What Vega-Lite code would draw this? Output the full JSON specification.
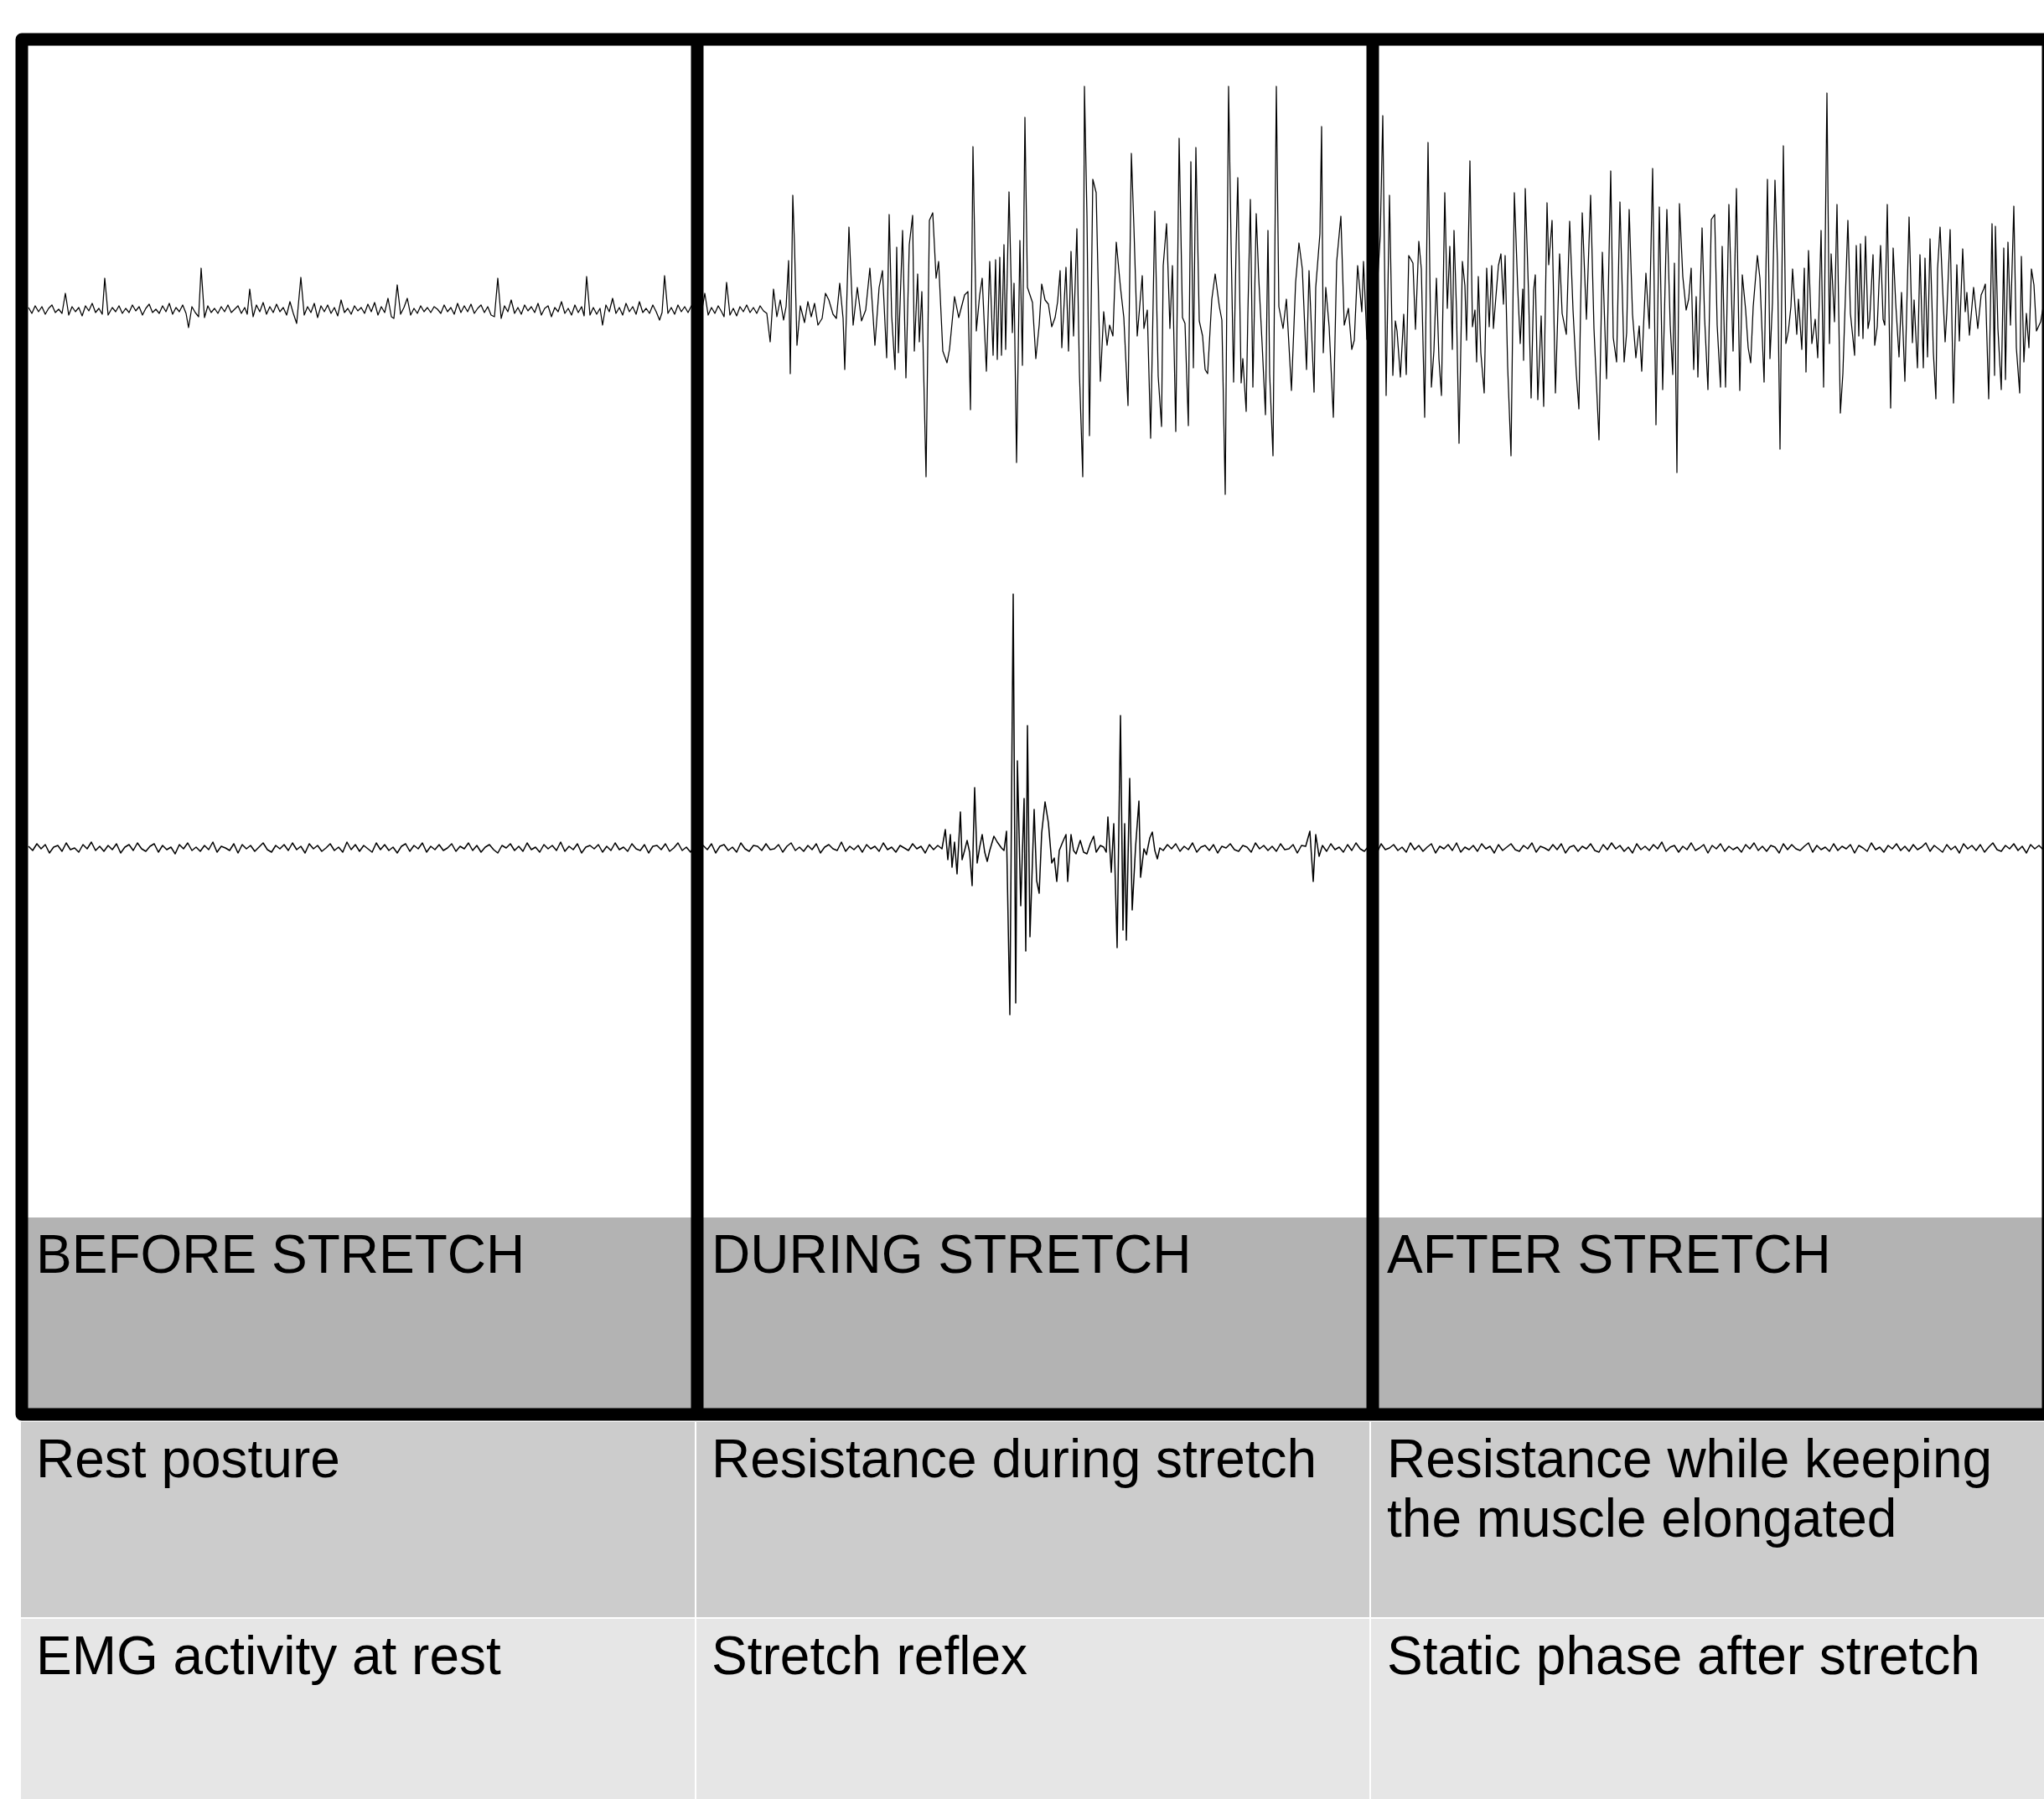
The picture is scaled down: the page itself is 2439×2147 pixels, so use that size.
{
"$schema":"https://vega.github.io/schema/vega-lite/v6.json",
"width":2439,"height":2147,"padding":0,"autosize":{"type":"none"},
"background":"#ffffff",
"config":{"view":{"stroke":null}},
"datasets":{
"cells":[
{"part":"band","t0":0,"t1":2418,"y0":67.63,"y1":78.62},
{"part":"r1","t0":-2,"t1":804,"y0":78.99,"y1":89.94},
{"part":"r1","t0":804,"t1":1609,"y0":78.99,"y1":89.94},
{"part":"r1","t0":1609,"t1":2430,"y0":78.99,"y1":89.94},
{"part":"r2","t0":-2,"t1":804,"y0":89.94,"y1":101},
{"part":"r2","t0":804,"t1":1609,"y0":89.94,"y1":101},
{"part":"r2","t0":1609,"t1":2430,"y0":89.94,"y1":101}
],
"frame":[{"t0":0,"t1":2418,"y0":2.189,"y1":78.62}],
"dividers":[{"t":806,"y0":2.189,"y1":78.62},{"t":1612,"y0":2.189,"y1":78.62}],
"labels":[
{"t":0,"top":67.63,"label":"BEFORE STRETCH"},
{"t":806,"top":67.63,"label":"DURING STRETCH"},
{"t":1612,"top":67.63,"label":"AFTER STRETCH"},
{"t":0,"top":78.99,"label":"Rest posture"},
{"t":806,"top":78.99,"label":"Resistance during stretch"},
{"t":1612,"top":78.99,"label":"Resistance while keeping\nthe muscle elongated"},
{"t":0,"top":89.94,"label":"EMG activity at rest"},
{"t":806,"top":89.94,"label":"Stretch reflex"},
{"t":1612,"top":89.94,"label":"Static phase after stretch"}
],
"emg1":[
{"t":8,"v":3},{"t":12,"v":-4},{"t":16,"v":5},{"t":20,"v":-2},{"t":24,"v":4},{"t":28,"v":-5},{"t":32,"v":2},{"t":36,"v":6},{"t":40,"v":-3},{"t":44,"v":1},{"t":48,"v":-4},{"t":52,"v":20},{"t":56,"v":-6},{"t":60,"v":4},{"t":64,"v":-2},{"t":68,"v":3},{"t":72,"v":-7},{"t":76,"v":5},{"t":80,"v":-1},{"t":84,"v":8},{"t":88,"v":-3},{"t":92,"v":2},{"t":96,"v":-5},{"t":99,"v":38},{"t":103,"v":-6},{"t":108,"v":3},{"t":112,"v":-2},{"t":116,"v":5},{"t":120,"v":-4},{"t":124,"v":2},{"t":128,"v":-3},{"t":132,"v":6},{"t":136,"v":-1},{"t":140,"v":4},{"t":144,"v":-6},{"t":148,"v":2},{"t":152,"v":7},{"t":156,"v":-3},{"t":160,"v":1},{"t":164,"v":-4},{"t":168,"v":5},{"t":172,"v":-2},{"t":176,"v":8},{"t":180,"v":-5},{"t":184,"v":3},{"t":188,"v":-2},{"t":192,"v":6},{"t":196,"v":-4},{"t":199,"v":-21},{"t":203,"v":4},{"t":207,"v":-3},{"t":211,"v":-8},{"t":214,"v":50},{"t":218,"v":-9},{"t":222,"v":5},{"t":226,"v":-3},{"t":230,"v":2},{"t":234,"v":-4},{"t":238,"v":4},{"t":242,"v":-2},{"t":246,"v":6},{"t":250,"v":-3},{"t":254,"v":1},{"t":258,"v":5},{"t":262,"v":-4},{"t":266,"v":3},{"t":269,"v":-5},{"t":272,"v":25},{"t":276,"v":-8},{"t":280,"v":6},{"t":284,"v":-2},{"t":288,"v":9},{"t":292,"v":-5},{"t":296,"v":4},{"t":300,"v":-3},{"t":304,"v":7},{"t":308,"v":-2},{"t":312,"v":3},{"t":316,"v":-6},{"t":320,"v":10},{"t":324,"v":-4},{"t":328,"v":-16},{"t":333,"v":39},{"t":337,"v":-6},{"t":341,"v":4},{"t":345,"v":-3},{"t":349,"v":8},{"t":353,"v":-9},{"t":357,"v":5},{"t":361,"v":-2},{"t":365,"v":6},{"t":369,"v":-4},{"t":373,"v":3},{"t":377,"v":-7},{"t":381,"v":12},{"t":385,"v":-3},{"t":389,"v":2},{"t":393,"v":-5},{"t":397,"v":5},{"t":401,"v":-1},{"t":405,"v":3},{"t":409,"v":-4},{"t":413,"v":7},{"t":417,"v":-2},{"t":421,"v":9},{"t":425,"v":-6},{"t":429,"v":4},{"t":433,"v":-3},{"t":437,"v":14},{"t":441,"v":-8},{"t":444,"v":-10},{"t":448,"v":30},{"t":452,"v":-5},{"t":456,"v":3},{"t":460,"v":14},{"t":464,"v":-6},{"t":468,"v":2},{"t":472,"v":-4},{"t":476,"v":5},{"t":480,"v":-2},{"t":484,"v":3},{"t":488,"v":-3},{"t":492,"v":4},{"t":496,"v":1},{"t":500,"v":-4},{"t":504,"v":6},{"t":508,"v":-2},{"t":512,"v":3},{"t":516,"v":-5},{"t":520,"v":8},{"t":524,"v":-3},{"t":528,"v":5},{"t":532,"v":-2},{"t":536,"v":7},{"t":540,"v":-4},{"t":544,"v":2},{"t":548,"v":6},{"t":552,"v":-3},{"t":556,"v":4},{"t":560,"v":-6},{"t":564,"v":-8},{"t":568,"v":38},{"t":572,"v":-10},{"t":576,"v":5},{"t":580,"v":-2},{"t":584,"v":12},{"t":588,"v":-4},{"t":592,"v":3},{"t":596,"v":-5},{"t":600,"v":6},{"t":604,"v":-1},{"t":608,"v":4},{"t":612,"v":-3},{"t":616,"v":8},{"t":620,"v":-6},{"t":624,"v":2},{"t":628,"v":5},{"t":632,"v":-8},{"t":636,"v":3},{"t":640,"v":-2},{"t":644,"v":10},{"t":648,"v":-4},{"t":652,"v":2},{"t":656,"v":-6},{"t":660,"v":6},{"t":664,"v":-3},{"t":668,"v":4},{"t":671,"v":-7},{"t":674,"v":40},{"t":678,"v":-6},{"t":682,"v":3},{"t":686,"v":-5},{"t":690,"v":2},{"t":693,"v":-18},{"t":697,"v":6},{"t":701,"v":-2},{"t":705,"v":14},{"t":709,"v":-4},{"t":713,"v":3},{"t":717,"v":-6},{"t":721,"v":8},{"t":725,"v":-2},{"t":729,"v":4},{"t":733,"v":-5},{"t":737,"v":10},{"t":741,"v":-3},{"t":745,"v":2},{"t":749,"v":-4},{"t":753,"v":6},{"t":757,"v":-2},{"t":761,"v":-12},{"t":764,"v":-3},{"t":767,"v":41},{"t":771,"v":-4},{"t":775,"v":3},{"t":779,"v":-5},{"t":783,"v":6},{"t":787,"v":-2},{"t":791,"v":4},{"t":795,"v":-3},{"t":799,"v":5},{"t":803,"v":-1},{"t":807,"v":3},{"t":811,"v":-4},{"t":815,"v":20},{"t":819,"v":-6},{"t":823,"v":3},{"t":827,"v":-4},{"t":831,"v":5},{"t":835,"v":-2},{"t":838,"v":-8},{"t":841,"v":33},{"t":845,"v":-6},{"t":849,"v":2},{"t":853,"v":-7},{"t":857,"v":4},{"t":861,"v":-2},{"t":865,"v":6},{"t":869,"v":-3},{"t":873,"v":3},{"t":877,"v":-4},{"t":881,"v":5},{"t":885,"v":-1},{"t":889,"v":-4},
{"t":893,"v":-38},{"t":897,"v":25},{"t":901,"v":-8},{"t":905,"v":12},{"t":909,"v":-12},{"t":912,"v":4},{"t":915,"v":59},{"t":917,"v":-76},{"t":920,"v":137},{"t":922,"v":79},{"t":925,"v":-42},{"t":929,"v":5},{"t":934,"v":-15},{"t":938,"v":10},{"t":942,"v":-8},{"t":946,"v":8},{"t":950,"v":-18},{"t":955,"v":-10},{"t":959,"v":20},{"t":963,"v":12},{"t":968,"v":-5},{"t":972,"v":-10},{"t":976,"v":32},{"t":980,"v":-10},{"t":982,"v":-71},{"t":987,"v":99},{"t":992,"v":-18},{"t":997,"v":27},{"t":1002,"v":-13},{"t":1007,"v":0},{"t":1012,"v":50},{"t":1015,"v":5},{"t":1018,"v":-42},{"t":1023,"v":27},{"t":1027,"v":47},{"t":1032,"v":-57},{"t":1035,"v":114},{"t":1038,"v":-7},{"t":1042,"v":-71},{"t":1044,"v":75},{"t":1046,"v":-51},{"t":1051,"v":95},{"t":1055,"v":-81},{"t":1059,"v":78},{"t":1063,"v":113},{"t":1065,"v":-49},{"t":1069,"v":43},{"t":1071,"v":-38},{"t":1074,"v":22},{"t":1079,"v":-199},{"t":1083,"v":107},{"t":1087,"v":116},{"t":1091,"v":38},{"t":1094,"v":58},{"t":1099,"v":-49},{"t":1104,"v":-63},{"t":1107,"v":-47},{"t":1113,"v":16},{"t":1118,"v":-9},{"t":1125,"v":18},{"t":1129,"v":22},{"t":1132,"v":-119},{"t":1135,"v":195},{"t":1139,"v":-25},{"t":1143,"v":18},{"t":1146,"v":38},{"t":1151,"v":-73},{"t":1155,"v":58},{"t":1159,"v":-54},{"t":1162,"v":60},{"t":1164,"v":-59},{"t":1167,"v":63},{"t":1169,"v":-54},{"t":1172,"v":78},{"t":1174,"v":-47},{"t":1178,"v":141},{"t":1182,"v":-27},{"t":1184,"v":32},{"t":1187,"v":-182},{"t":1191,"v":83},{"t":1194,"v":-66},{"t":1197,"v":230},{"t":1200,"v":27},{"t":1206,"v":9},{"t":1210,"v":-58},{"t":1214,"v":-18},{"t":1217,"v":31},{"t":1221,"v":12},{"t":1225,"v":7},{"t":1229,"v":-20},{"t":1233,"v":-9},{"t":1236,"v":10},{"t":1239,"v":47},{"t":1241,"v":-45},{"t":1246,"v":51},{"t":1249,"v":-49},{"t":1252,"v":70},{"t":1255,"v":-31},{"t":1259,"v":97},{"t":1262,"v":-74},{"t":1266,"v":-199},{"t":1268,"v":267},{"t":1271,"v":113},{"t":1274,"v":-150},{"t":1278,"v":156},{"t":1282,"v":140},{"t":1287,"v":-85},{"t":1291,"v":-2},{"t":1295,"v":-42},{"t":1298,"v":-18},{"t":1302,"v":-31},{"t":1306,"v":81},{"t":1311,"v":27},{"t":1315,"v":-9},{"t":1320,"v":-114},{"t":1324,"v":187},{"t":1327,"v":100},{"t":1331,"v":-31},{"t":1337,"v":41},{"t":1339,"v":-22},{"t":1343,"v":0},{"t":1347,"v":-153},{"t":1352,"v":118},{"t":1356,"v":-79},{"t":1360,"v":-139},{"t":1362,"v":53},{"t":1366,"v":103},{"t":1370,"v":-22},{"t":1373,"v":53},{"t":1377,"v":-145},{"t":1381,"v":205},{"t":1385,"v":-9},{"t":1388,"v":-16},{"t":1392,"v":-138},{"t":1395,"v":177},{"t":1398,"v":-69},{"t":1401,"v":194},{"t":1405,"v":-13},{"t":1409,"v":-31},{"t":1412,"v":-71},{"t":1415,"v":-76},{"t":1420,"v":13},{"t":1424,"v":43},{"t":1429,"v":4},{"t":1432,"v":-12},{"t":1436,"v":-220},{"t":1440,"v":267},{"t":1443,"v":78},{"t":1446,"v":-86},{"t":1449,"v":76},{"t":1451,"v":158},{"t":1455,"v":-87},{"t":1457,"v":-58},{"t":1461,"v":-121},{"t":1463,"v":-5},{"t":1466,"v":132},{"t":1469,"v":-92},{"t":1473,"v":115},{"t":1476,"v":38},{"t":1480,"v":-40},{"t":1484,"v":-125},{"t":1487,"v":95},{"t":1489,"v":-76},{"t":1493,"v":-174},{"t":1497,"v":267},{"t":1500,"v":4},{"t":1505,"v":-22},{"t":1509,"v":13},{"t":1515,"v":-96},{"t":1520,"v":33},{"t":1524,"v":80},{"t":1528,"v":49},{"t":1533,"v":-71},{"t":1536,"v":47},{"t":1542,"v":-98},{"t":1544,"v":27},{"t":1549,"v":91},{"t":1551,"v":219},{"t":1553,"v":-51},{"t":1556,"v":27},{"t":1560,"v":-20},{"t":1565,"v":-128},{"t":1569,"v":58},{"t":1574,"v":112},{"t":1578,"v":-18},{"t":1583,"v":2},{"t":1587,"v":-47},{"t":1590,"v":-36},{"t":1594,"v":53},{"t":1599,"v":-2},{"t":1601,"v":58},{"t":1605,"v":-35},{"t":1609,"v":40},{"t":1613,"v":-60},{"t":1617,"v":20},
{"t":1621,"v":89},{"t":1624,"v":232},{"t":1628,"v":-102},{"t":1632,"v":137},{"t":1636,"v":-78},{"t":1639,"v":-13},{"t":1641,"v":-25},{"t":1645,"v":-80},{"t":1649,"v":-5},{"t":1652,"v":-77},{"t":1655,"v":65},{"t":1660,"v":56},{"t":1663,"v":-23},{"t":1667,"v":82},{"t":1670,"v":49},{"t":1674,"v":-128},{"t":1678,"v":200},{"t":1682,"v":-92},{"t":1685,"v":-49},{"t":1688,"v":38},{"t":1691,"v":-58},{"t":1694,"v":-102},{"t":1698,"v":140},{"t":1701,"v":2},{"t":1704,"v":76},{"t":1707,"v":-47},{"t":1709,"v":95},{"t":1712,"v":-2},{"t":1715,"v":-159},{"t":1719,"v":58},{"t":1722,"v":29},{"t":1724,"v":-36},{"t":1728,"v":178},{"t":1731,"v":-20},{"t":1734,"v":0},{"t":1736,"v":-62},{"t":1738,"v":40},{"t":1741,"v":-51},{"t":1745,"v":-99},{"t":1748,"v":50},{"t":1751,"v":-20},{"t":1754,"v":53},{"t":1756,"v":-22},{"t":1759,"v":16},{"t":1762,"v":53},{"t":1765,"v":67},{"t":1768,"v":7},{"t":1770,"v":65},{"t":1773,"v":-67},{"t":1777,"v":-174},{"t":1781,"v":140},{"t":1785,"v":27},{"t":1788,"v":-40},{"t":1791,"v":25},{"t":1792,"v":-60},{"t":1794,"v":145},{"t":1798,"v":18},{"t":1801,"v":-105},{"t":1804,"v":24},{"t":1806,"v":42},{"t":1809,"v":-107},{"t":1813,"v":-7},{"t":1816,"v":-115},{"t":1820,"v":128},{"t":1822,"v":54},{"t":1826,"v":107},{"t":1830,"v":-99},{"t":1835,"v":67},{"t":1838,"v":-4},{"t":1843,"v":-29},{"t":1847,"v":106},{"t":1851,"v":0},{"t":1855,"v":-77},{"t":1858,"v":-118},{"t":1862,"v":116},{"t":1867,"v":-11},{"t":1872,"v":137},{"t":1876,"v":-22},{"t":1882,"v":-155},{"t":1886,"v":69},{"t":1891,"v":-82},{"t":1896,"v":166},{"t":1899,"v":-33},{"t":1903,"v":-62},{"t":1907,"v":129},{"t":1912,"v":-62},{"t":1915,"v":-27},{"t":1918,"v":120},{"t":1922,"v":-5},{"t":1926,"v":-57},{"t":1930,"v":-19},{"t":1933,"v":-73},{"t":1935,"v":-22},{"t":1938,"v":44},{"t":1942,"v":-22},{"t":1946,"v":169},{"t":1950,"v":-137},{"t":1954,"v":123},{"t":1958,"v":-95},{"t":1963,"v":120},{"t":1967,"v":-18},{"t":1970,"v":-77},{"t":1972,"v":56},{"t":1975,"v":-194},{"t":1978,"v":127},{"t":1982,"v":40},{"t":1986,"v":0},{"t":1989,"v":13},{"t":1992,"v":50},{"t":1995,"v":-71},{"t":1998,"v":16},{"t":2000,"v":-80},{"t":2005,"v":98},{"t":2008,"v":-9},{"t":2012,"v":-95},{"t":2016,"v":108},{"t":2020,"v":114},{"t":2023,"v":-18},{"t":2027,"v":-92},{"t":2029,"v":76},{"t":2033,"v":-92},{"t":2037,"v":126},{"t":2042,"v":-49},{"t":2046,"v":145},{"t":2050,"v":-96},{"t":2053,"v":42},{"t":2057,"v":0},{"t":2060,"v":-45},{"t":2063,"v":-63},{"t":2066,"v":4},{"t":2071,"v":65},{"t":2074,"v":38},{"t":2079,"v":-86},{"t":2083,"v":156},{"t":2086,"v":-58},{"t":2089,"v":9},{"t":2092,"v":155},{"t":2095,"v":55},{"t":2098,"v":-166},{"t":2102,"v":196},{"t":2105,"v":-40},{"t":2108,"v":-25},{"t":2111,"v":4},{"t":2113,"v":49},{"t":2118,"v":-29},{"t":2120,"v":13},{"t":2124,"v":-47},{"t":2127,"v":50},{"t":2129,"v":-74},{"t":2132,"v":71},{"t":2136,"v":-40},{"t":2140,"v":-11},{"t":2143,"v":-57},{"t":2147,"v":95},{"t":2150,"v":-92},{"t":2154,"v":259},{"t":2157,"v":-40},{"t":2159,"v":67},{"t":2163,"v":-14},{"t":2166,"v":126},{"t":2170,"v":-123},{"t":2173,"v":-76},{"t":2179,"v":107},{"t":2182,"v":-4},{"t":2187,"v":-54},{"t":2189,"v":77},{"t":2192,"v":-31},{"t":2194,"v":79},{"t":2197,"v":-34},{"t":2200,"v":88},{"t":2203,"v":-22},{"t":2205,"v":-11},{"t":2209,"v":66},{"t":2211,"v":-42},{"t":2214,"v":-20},{"t":2218,"v":77},{"t":2221,"v":-11},{"t":2223,"v":-18},{"t":2226,"v":126},{"t":2230,"v":-117},{"t":2233,"v":74},{"t":2236,"v":9},{"t":2240,"v":-56},{"t":2243,"v":21},{"t":2247,"v":-85},{"t":2252,"v":111},{"t":2256,"v":-39},{"t":2258,"v":12},{"t":2262,"v":-69},{"t":2265,"v":66},{"t":2269,"v":-69},{"t":2271,"v":62},{"t":2274,"v":-56},{"t":2277,"v":85},{"t":2281,"v":-51},{"t":2284,"v":-106},{"t":2286,"v":49},{"t":2289,"v":99},{"t":2292,"v":27},{"t":2295,"v":-38},{"t":2297,"v":-4},{"t":2301,"v":96},{"t":2305,"v":-111},{"t":2309,"v":54},{"t":2312,"v":-37},{"t":2316,"v":73},{"t":2319,"v":-2},{"t":2321,"v":21},{"t":2324,"v":-30},{"t":2329,"v":27},{"t":2334,"v":-22},{"t":2338,"v":18},{"t":2341,"v":25},{"t":2343,"v":31},{"t":2347,"v":-106},{"t":2351,"v":103},{"t":2354,"v":-78},{"t":2355,"v":100},{"t":2358,"v":-22},{"t":2362,"v":-95},{"t":2365,"v":74},{"t":2367,"v":-83},{"t":2370,"v":81},{"t":2373,"v":-18},{"t":2377,"v":124},{"t":2380,"v":-45},{"t":2384,"v":-99},{"t":2386,"v":64},{"t":2389,"v":-62},{"t":2392,"v":-4},{"t":2395,"v":-45},{"t":2398,"v":49},{"t":2401,"v":30},{"t":2404,"v":-25},{"t":2409,"v":-14},{"t":2413,"v":10}
],
"emg2":[
{"t":8,"v":2},{"t":13,"v":-3},{"t":18,"v":5},{"t":23,"v":-1},{"t":28,"v":4},{"t":33,"v":-6},{"t":38,"v":1},{"t":43,"v":3},{"t":48,"v":-4},{"t":53,"v":6},{"t":58,"v":-2},{"t":63,"v":0},{"t":68,"v":-5},{"t":73,"v":4},{"t":78,"v":-1},{"t":83,"v":7},{"t":88,"v":-3},{"t":93,"v":2},{"t":98,"v":-4},{"t":103,"v":3},
{"t":108,"v":-2},{"t":113,"v":5},{"t":118,"v":-6},{"t":123,"v":1},{"t":128,"v":4},{"t":133,"v":-3},{"t":138,"v":6},{"t":143,"v":-1},{"t":148,"v":-4},{"t":153,"v":2},{"t":158,"v":5},{"t":163,"v":-5},{"t":168,"v":3},{"t":173,"v":-2},{"t":178,"v":1},{"t":183,"v":-7},{"t":188,"v":4},{"t":193,"v":-1},{"t":198,"v":6},{"t":203,"v":-3},
{"t":208,"v":1},{"t":213,"v":-4},{"t":218,"v":3},{"t":223,"v":-2},{"t":228,"v":7},{"t":233,"v":-5},{"t":238,"v":2},{"t":243,"v":0},{"t":248,"v":-3},{"t":253,"v":5},{"t":258,"v":-6},{"t":263,"v":4},{"t":268,"v":-1},{"t":273,"v":3},{"t":278,"v":-4},{"t":283,"v":1},{"t":288,"v":6},{"t":293,"v":-2},{"t":298,"v":-5},{"t":303,"v":3},
{"t":308,"v":-1},{"t":313,"v":4},{"t":318,"v":-3},{"t":323,"v":6},{"t":328,"v":-2},{"t":333,"v":2},{"t":338,"v":-6},{"t":343,"v":5},{"t":348,"v":-1},{"t":353,"v":3},{"t":358,"v":-4},{"t":363,"v":0},{"t":368,"v":5},{"t":373,"v":-3},{"t":378,"v":1},{"t":383,"v":-5},{"t":388,"v":7},{"t":393,"v":-2},{"t":398,"v":4},{"t":403,"v":-4},
{"t":408,"v":3},{"t":413,"v":-1},{"t":418,"v":-5},{"t":423,"v":6},{"t":428,"v":-2},{"t":433,"v":4},{"t":438,"v":-3},{"t":443,"v":1},{"t":448,"v":-6},{"t":453,"v":2},{"t":458,"v":5},{"t":463,"v":-4},{"t":468,"v":3},{"t":473,"v":-1},{"t":478,"v":6},{"t":483,"v":-5},{"t":488,"v":2},{"t":493,"v":-2},{"t":498,"v":4},{"t":503,"v":-3},
{"t":508,"v":0},{"t":513,"v":5},{"t":518,"v":-4},{"t":523,"v":2},{"t":528,"v":-1},{"t":533,"v":6},{"t":538,"v":-3},{"t":543,"v":3},{"t":548,"v":-5},{"t":553,"v":1},{"t":558,"v":4},{"t":563,"v":-2},{"t":568,"v":-6},{"t":573,"v":3},{"t":578,"v":0},{"t":583,"v":5},{"t":588,"v":-3},{"t":593,"v":2},{"t":598,"v":-4},{"t":603,"v":6},
{"t":608,"v":-2},{"t":613,"v":1},{"t":618,"v":-5},{"t":623,"v":4},{"t":628,"v":-1},{"t":633,"v":3},{"t":638,"v":-3},{"t":643,"v":7},{"t":648,"v":-4},{"t":653,"v":2},{"t":658,"v":-2},{"t":663,"v":5},{"t":668,"v":-6},{"t":673,"v":1},{"t":678,"v":3},{"t":683,"v":-1},{"t":688,"v":4},{"t":693,"v":-5},{"t":698,"v":2},{"t":703,"v":-3},
{"t":708,"v":6},{"t":713,"v":-2},{"t":718,"v":1},{"t":723,"v":-4},{"t":728,"v":5},{"t":733,"v":-1},{"t":738,"v":-3},{"t":743,"v":4},{"t":748,"v":-6},{"t":753,"v":2},{"t":758,"v":3},{"t":763,"v":-2},{"t":768,"v":5},{"t":773,"v":-4},{"t":778,"v":0},{"t":783,"v":6},{"t":788,"v":-3},{"t":793,"v":1},{"t":798,"v":-5},{"t":803,"v":4},
{"t":808,"v":-1},{"t":813,"v":3},{"t":818,"v":-2},{"t":823,"v":5},{"t":828,"v":-6},{"t":833,"v":2},{"t":838,"v":4},{"t":843,"v":-3},{"t":848,"v":1},{"t":853,"v":-5},{"t":858,"v":6},{"t":863,"v":-1},{"t":868,"v":-4},{"t":873,"v":3},{"t":878,"v":2},{"t":883,"v":-3},{"t":888,"v":5},{"t":893,"v":-2},{"t":898,"v":-1},{"t":903,"v":4},
{"t":908,"v":-5},{"t":913,"v":2},{"t":918,"v":6},{"t":923,"v":-3},{"t":928,"v":1},{"t":933,"v":-4},{"t":938,"v":3},{"t":943,"v":-2},{"t":948,"v":5},{"t":953,"v":-6},{"t":958,"v":1},{"t":963,"v":4},{"t":968,"v":-1},{"t":973,"v":-3},{"t":978,"v":7},{"t":983,"v":-4},{"t":988,"v":2},{"t":993,"v":-2},{"t":998,"v":3},{"t":1003,"v":-5},
{"t":1008,"v":4},{"t":1013,"v":-1},{"t":1018,"v":2},{"t":1023,"v":-4},{"t":1028,"v":6},{"t":1033,"v":-2},{"t":1038,"v":1},{"t":1043,"v":-5},{"t":1048,"v":3},{"t":1053,"v":0},{"t":1058,"v":-3},{"t":1063,"v":5},{"t":1068,"v":-1},{"t":1073,"v":2},{"t":1078,"v":-6},{"t":1083,"v":4},{"t":1088,"v":-2},{"t":1093,"v":3},{"t":1098,"v":-1},
{"t":1102,"v":22},{"t":1105,"v":-14},{"t":1108,"v":16},{"t":1110,"v":-23},{"t":1113,"v":7},{"t":1116,"v":-31},{"t":1120,"v":43},{"t":1122,"v":-14},{"t":1125,"v":-3},{"t":1128,"v":9},{"t":1131,"v":-5},{"t":1134,"v":-45},{"t":1137,"v":72},{"t":1140,"v":-18},{"t":1143,"v":1},{"t":1146,"v":16},{"t":1149,"v":-5},{"t":1152,"v":-16},{"t":1155,"v":-3},{"t":1160,"v":14},{"t":1164,"v":7},{"t":1169,"v":0},{"t":1172,"v":-3},{"t":1175,"v":20},{"t":1179,"v":-199},{"t":1183,"v":303},{"t":1186,"v":-185},{"t":1188,"v":104},{"t":1192,"v":-69},{"t":1196,"v":59},{"t":1198,"v":-123},{"t":1200,"v":146},{"t":1203,"v":-106},{"t":1208,"v":46},{"t":1211,"v":-39},{"t":1214,"v":-54},{"t":1217,"v":18},{"t":1221,"v":55},{"t":1225,"v":30},{"t":1229,"v":-18},{"t":1232,"v":-12},{"t":1235,"v":-40},{"t":1238,"v":-3},{"t":1242,"v":7},{"t":1246,"v":16},{"t":1248,"v":-40},{"t":1252,"v":16},{"t":1255,"v":-3},{"t":1258,"v":-7},{"t":1263,"v":9},{"t":1267,"v":-5},{"t":1271,"v":-7},{"t":1275,"v":5},{"t":1279,"v":14},{"t":1282,"v":-5},{"t":1287,"v":3},{"t":1291,"v":1},{"t":1294,"v":-5},{"t":1296,"v":37},{"t":1300,"v":-29},{"t":1303,"v":29},{"t":1307,"v":-119},{"t":1311,"v":158},{"t":1314,"v":-98},{"t":1316,"v":29},{"t":1318,"v":-110},{"t":1322,"v":83},{"t":1325,"v":-74},{"t":1329,"v":1},{"t":1333,"v":56},{"t":1335,"v":-35},{"t":1339,"v":-1},{"t":1342,"v":-8},{"t":1346,"v":12},{"t":1349,"v":19},{"t":1352,"v":-3},{"t":1355,"v":-13},{"t":1358,"v":0},
{"t":1362,"v":-3},{"t":1367,"v":4},{"t":1372,"v":-1},{"t":1377,"v":5},{"t":1382,"v":-4},{"t":1387,"v":2},{"t":1392,"v":-2},{"t":1397,"v":6},{"t":1402,"v":-5},{"t":1407,"v":1},{"t":1412,"v":3},{"t":1417,"v":-3},{"t":1422,"v":4},{"t":1427,"v":-6},{"t":1432,"v":2},{"t":1437,"v":0},{"t":1442,"v":5},{"t":1447,"v":-2},{"t":1452,"v":-4},{"t":1457,"v":3},
{"t":1462,"v":1},{"t":1467,"v":-5},{"t":1472,"v":6},{"t":1477,"v":-1},{"t":1482,"v":3},{"t":1487,"v":-3},{"t":1492,"v":2},{"t":1497,"v":-4},{"t":1502,"v":5},{"t":1507,"v":-2},{"t":1512,"v":-1},{"t":1517,"v":4},{"t":1522,"v":-6},{"t":1527,"v":3},{"t":1532,"v":2},{"t":1537,"v":20},{"t":1541,"v":-40},{"t":1544,"v":16},{"t":1548,"v":-10},{"t":1552,"v":3},{"t":1557,"v":-4},
{"t":1562,"v":5},{"t":1567,"v":-2},{"t":1572,"v":1},{"t":1577,"v":-5},{"t":1582,"v":4},{"t":1587,"v":-3},{"t":1592,"v":6},{"t":1597,"v":-1},{"t":1602,"v":-4},{"t":1607,"v":2},{"t":1612,"v":3},{"t":1617,"v":-6},{"t":1622,"v":5},{"t":1627,"v":-2},{"t":1632,"v":0},{"t":1637,"v":4},{"t":1642,"v":-3},{"t":1647,"v":1},{"t":1652,"v":-5},{"t":1657,"v":6},
{"t":1662,"v":-2},{"t":1667,"v":3},{"t":1672,"v":-4},{"t":1677,"v":1},{"t":1682,"v":5},{"t":1687,"v":-6},{"t":1692,"v":2},{"t":1697,"v":-1},{"t":1702,"v":4},{"t":1707,"v":-3},{"t":1712,"v":6},{"t":1717,"v":-5},{"t":1722,"v":1},{"t":1727,"v":-2},{"t":1732,"v":3},{"t":1737,"v":-4},{"t":1742,"v":5},{"t":1747,"v":-1},{"t":1752,"v":2},{"t":1757,"v":-6},
{"t":1762,"v":4},{"t":1767,"v":-3},{"t":1772,"v":1},{"t":1777,"v":5},{"t":1782,"v":-2},{"t":1787,"v":-4},{"t":1792,"v":3},{"t":1797,"v":-1},{"t":1802,"v":6},{"t":1807,"v":-5},{"t":1812,"v":2},{"t":1817,"v":0},{"t":1822,"v":-3},{"t":1827,"v":4},{"t":1832,"v":-2},{"t":1837,"v":5},{"t":1842,"v":-6},{"t":1847,"v":1},{"t":1852,"v":3},{"t":1857,"v":-4},
{"t":1862,"v":2},{"t":1867,"v":-1},{"t":1872,"v":5},{"t":1877,"v":-3},{"t":1882,"v":-5},{"t":1887,"v":4},{"t":1892,"v":-2},{"t":1897,"v":6},{"t":1902,"v":-1},{"t":1907,"v":3},{"t":1912,"v":-4},{"t":1917,"v":1},{"t":1922,"v":-6},{"t":1927,"v":5},{"t":1932,"v":-2},{"t":1937,"v":2},{"t":1942,"v":-3},{"t":1947,"v":4},{"t":1952,"v":-1},{"t":1957,"v":7},
{"t":1962,"v":-4},{"t":1967,"v":1},{"t":1972,"v":3},{"t":1977,"v":-5},{"t":1982,"v":2},{"t":1987,"v":-2},{"t":1992,"v":6},{"t":1997,"v":-3},{"t":2002,"v":0},{"t":2007,"v":4},{"t":2012,"v":-6},{"t":2017,"v":3},{"t":2022,"v":-1},{"t":2027,"v":5},{"t":2032,"v":-4},{"t":2037,"v":2},{"t":2042,"v":-2},{"t":2047,"v":1},{"t":2052,"v":-5},{"t":2057,"v":4},
{"t":2062,"v":-1},{"t":2067,"v":6},{"t":2072,"v":-3},{"t":2077,"v":2},{"t":2082,"v":-4},{"t":2087,"v":3},{"t":2092,"v":1},{"t":2097,"v":-6},{"t":2102,"v":5},{"t":2107,"v":-2},{"t":2112,"v":4},{"t":2117,"v":-1},{"t":2122,"v":-3},{"t":2127,"v":2},{"t":2132,"v":6},{"t":2137,"v":-5},{"t":2142,"v":3},{"t":2147,"v":-2},{"t":2152,"v":1},{"t":2157,"v":-4},
{"t":2162,"v":5},{"t":2167,"v":-3},{"t":2172,"v":2},{"t":2177,"v":-1},{"t":2182,"v":4},{"t":2187,"v":-6},{"t":2192,"v":3},{"t":2197,"v":0},{"t":2202,"v":-4},{"t":2207,"v":6},{"t":2212,"v":-2},{"t":2217,"v":1},{"t":2222,"v":-5},{"t":2227,"v":3},{"t":2232,"v":-1},{"t":2237,"v":5},{"t":2242,"v":-3},{"t":2247,"v":2},{"t":2252,"v":-4},{"t":2257,"v":4},
{"t":2262,"v":-2},{"t":2267,"v":1},{"t":2272,"v":6},{"t":2277,"v":-4},{"t":2282,"v":3},{"t":2287,"v":-1},{"t":2292,"v":-5},{"t":2297,"v":4},{"t":2302,"v":-2},{"t":2307,"v":2},{"t":2312,"v":-6},{"t":2317,"v":5},{"t":2322,"v":-1},{"t":2327,"v":3},{"t":2332,"v":-3},{"t":2337,"v":4},{"t":2342,"v":-5},{"t":2347,"v":1},{"t":2352,"v":6},{"t":2357,"v":-2},
{"t":2362,"v":-4},{"t":2367,"v":3},{"t":2372,"v":-1},{"t":2377,"v":5},{"t":2382,"v":-3},{"t":2387,"v":2},{"t":2392,"v":-6},{"t":2397,"v":4},{"t":2402,"v":-1},{"t":2407,"v":3},{"t":2412,"v":-2}
]
},
"resolve":{"scale":{"y":"independent"}},
"layer":[
{"data":{"name":"cells"},
 "mark":{"type":"rect","stroke":"#ffffff","strokeWidth":2},
 "encoding":{
  "x":{"field":"t0","type":"quantitative","scale":{"domain":[-26,2413],"nice":false,"zero":false},"axis":null},
  "x2":{"field":"t1"},
  "y":{"field":"y0","type":"quantitative","scale":{"domain":[0,100],"reverse":true,"nice":false,"zero":false},"axis":null},
  "y2":{"field":"y1"},
  "fill":{"field":"part","type":"nominal","scale":{"domain":["band","r1","r2"],"range":["#b3b3b3","#cccccc","#e6e6e6"]},"legend":null}
 }},
{"data":{"name":"emg1"},
 "mark":{"type":"line","color":"#000000","strokeWidth":1.25,"strokeJoin":"round"},
 "encoding":{
  "x":{"field":"t","type":"quantitative","scale":{"domain":[-26,2413],"nice":false,"zero":false},"axis":null},
  "y":{"field":"v","type":"quantitative","scale":{"domain":[-1777,370],"nice":false,"zero":false},"axis":null}
 }},
{"data":{"name":"emg2"},
 "mark":{"type":"line","color":"#000000","strokeWidth":1.5,"strokeJoin":"round"},
 "encoding":{
  "x":{"field":"t","type":"quantitative","scale":{"domain":[-26,2413],"nice":false,"zero":false},"axis":null},
  "y":{"field":"v","type":"quantitative","scale":{"domain":[-1135,1012],"nice":false,"zero":false},"axis":null}
 }},
{"data":{"name":"frame"},
 "mark":{"type":"rect","filled":false,"stroke":"#000000","strokeWidth":15,"strokeJoin":"round"},
 "encoding":{
  "x":{"field":"t0","type":"quantitative","scale":{"domain":[-26,2413],"nice":false,"zero":false},"axis":null},
  "x2":{"field":"t1"},
  "y":{"field":"y0","type":"quantitative","scale":{"domain":[0,100],"reverse":true,"nice":false,"zero":false},"axis":null},
  "y2":{"field":"y1"}
 }},
{"data":{"name":"dividers"},
 "mark":{"type":"rule","color":"#000000","strokeWidth":15},
 "encoding":{
  "x":{"field":"t","type":"quantitative","scale":{"domain":[-26,2413],"nice":false,"zero":false},"axis":null},
  "y":{"field":"y0","type":"quantitative","scale":{"domain":[0,100],"reverse":true,"nice":false,"zero":false},"axis":null},
  "y2":{"field":"y1"}
 }},
{"data":{"name":"labels"},
 "mark":{"type":"text","align":"left","baseline":"alphabetic","dx":17,"dy":67,"font":"Liberation Sans","fontSize":64,"color":"#000000","lineBreak":"\n","lineHeight":71},
 "encoding":{
  "x":{"field":"t","type":"quantitative","scale":{"domain":[-26,2413],"nice":false,"zero":false},"axis":null},
  "y":{"field":"top","type":"quantitative","scale":{"domain":[0,100],"reverse":true,"nice":false,"zero":false},"axis":null},
  "text":{"field":"label","type":"nominal"}
 }}
]
}
